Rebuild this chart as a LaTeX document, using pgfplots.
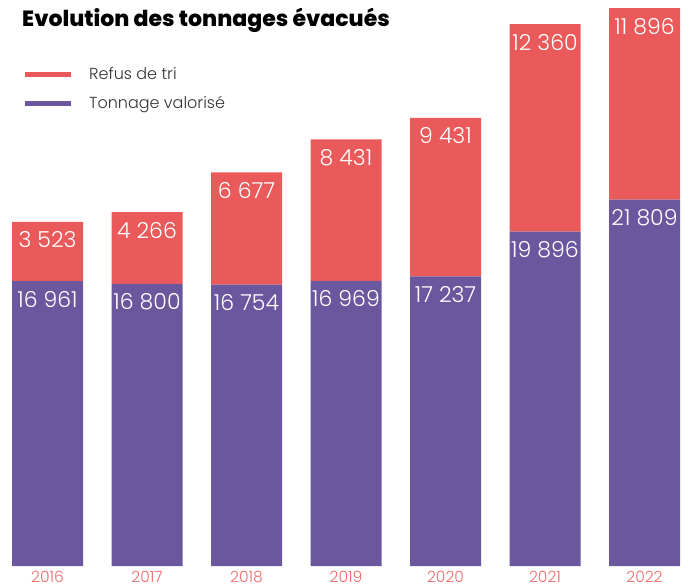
\documentclass[border=0pt]{standalone}
\usepackage{fontspec}
\setmainfont{Poppins}[UprightFont={* Light}, BoldFont={* Bold}]
\newfontfamily\titlefont{Poppins}[UprightFont={* ExtraBold}]
\usepackage{pgfplots}
\pgfplotsset{compat=1.18}
\definecolor{refus}{HTML}{EB5A5A}
\definecolor{valo}{HTML}{6B579E}
\definecolor{yearc}{HTML}{F06A6A}
\definecolor{txt}{HTML}{333333}
\pgfplotsset{commonax/.style={at={(0pt,18pt)}, anchor=south west,
 scale only axis, width=692pt, height=557pt,
 xmin=-0.4774, xmax=6.4774, ymin=0, ymax=33155}}
\begin{document}
\begin{tikzpicture}
\begin{axis}[
 commonax,
 ybar stacked, bar width=71pt,
 axis line style={draw=none}, major tick length=0pt,
 ytick=\empty, xtick={0,1,2,3,4,5,6},
 xticklabels={2016,2017,2018,2019,2020,2021,2022},
 xticklabel style={font=\fontsize{15.5}{15.5}\selectfont, text=yearc, anchor=north, inner sep=0pt, yshift=-5pt},
 reverse legend,
 legend style={draw=none, fill=none, at={(0.0318,0.8564)}, anchor=west, inner sep=0pt,
   row sep=11pt, column sep=14pt, font=\fontsize{16}{16}\selectfont, text=txt, legend cell align=left},
]
\addplot[fill=valo, draw=none, legend image code/.code={\draw[valo, line width=5pt] (0pt,0pt) -- (46pt,0pt);}]
 coordinates {(0,16961) (1,16800) (2,16754) (3,16969) (4,17237) (5,19896) (6,21809)};
\addplot[fill=refus, draw=none, legend image code/.code={\draw[refus, line width=5pt] (0pt,0pt) -- (46pt,0pt);}]
 coordinates {(0,3523) (1,4266) (2,6677) (3,8431) (4,9431) (5,12360) (6,11896)};
\legend{Tonnage valorisé, Refus de tri}
\node[anchor=base west, font=\titlefont\fontsize{22}{22}\selectfont, text=black, inner sep=0pt]
 at (axis description cs:0.0318,0.9677) {Evolution des tonnages évacués};
\end{axis}
\begin{axis}[commonax, hide axis, clip=false,
 nodes near coords, point meta=explicit symbolic,
 every node near coord/.append style={font=\fontsize{22}{22}\selectfont, text=white, anchor=center, yshift=-18pt}]
\addplot[only marks, mark=none] coordinates {(0,16961)[16 961] (1,16800)[16 800] (2,16754)[16 754] (3,16969)[16 969] (4,17237)[17 237] (5,19896)[19 896] (6,21809)[21 809]};
\addplot[only marks, mark=none] coordinates {(0,20484)[3 523] (1,21066)[4 266] (2,23431)[6 677] (3,25400)[8 431] (4,26668)[9 431] (5,32256)[12 360]};
\addplot[only marks, mark=none, every node near coord/.append style={yshift=-9pt}] coordinates {(6,33705)[11 896]};
\end{axis}
\pgfresetboundingbox
\useasboundingbox (0,0) rectangle (692pt,584pt);
\end{tikzpicture}
\end{document}
